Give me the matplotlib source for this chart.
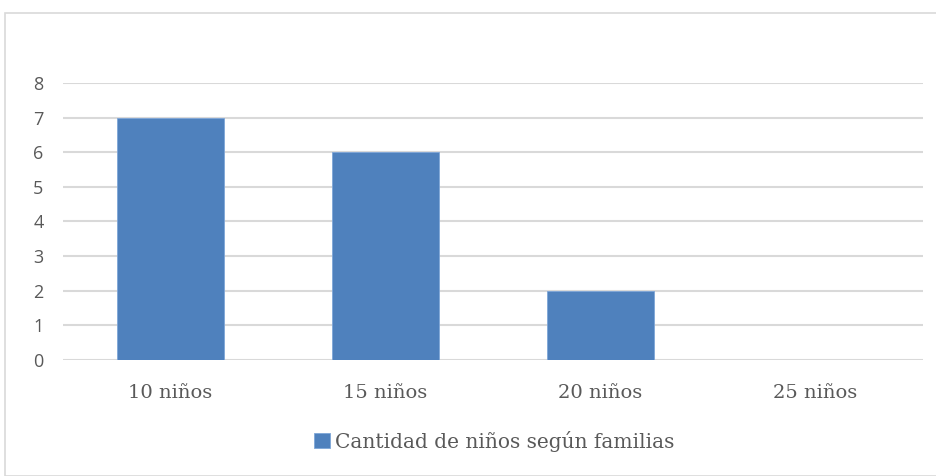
import matplotlib.pyplot as plt
from matplotlib.patches import Rectangle

categories = ["10 niños", "15 niños", "20 niños", "25 niños"]
values = [7, 6, 2, 0]
yticks = [0, 1, 2, 3, 4, 5, 6, 7, 8]
series_name = "Cantidad de niños según familias"

W, H = 937, 476
fig = plt.figure(figsize=(W / 100, H / 100), dpi=100)

# outer chart border
fig.patches.append(Rectangle((5 / W, 0), 1, 1 - 13 / H, transform=fig.transFigure,
                             fill=False, edgecolor="#D9D9D9", linewidth=1.2))

ax = fig.add_axes([63 / W, 1 - 360 / H, (923 - 63) / W, (360 - 83) / H])
x = range(len(categories))
ax.bar(x, values, width=0.5, color="#4F81BD", edgecolor="#7EA6D8", linewidth=0.6,
       zorder=3, label=series_name)

ax.set_xlim(-0.5, len(categories) - 0.5)
ax.set_ylim(0, 8)
ax.set_yticks(yticks)
ax.set_yticklabels([str(t) for t in yticks], fontsize=13, color="#595959", family="Open Sans")
ax.set_xticks(list(x))
ax.set_xticklabels(categories, fontsize=14, color="#595959", family="DejaVu Serif")
ax.tick_params(axis="both", length=0)
ax.tick_params(axis="x", pad=17)
ax.tick_params(axis="y", pad=14)
ax.grid(axis="y", color="#D9D9D9", linewidth=1.5, zorder=0)
ax.set_axisbelow(True)
for s in ax.spines.values():
    s.set_visible(False)

leg = fig.legend(loc="center", bbox_to_anchor=(0.527, 1 - 441 / H), frameon=False,
                 handlelength=0.8, handleheight=0.8, handletextpad=0.25,
                 prop={"family": "DejaVu Serif", "size": 14.5})
for t in leg.get_texts():
    t.set_color("#595959")

plt.savefig("out.png", dpi=100)
